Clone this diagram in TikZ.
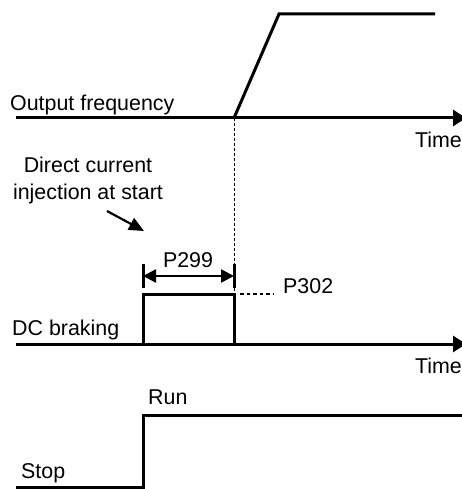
\documentclass[tikz,border=0pt]{standalone}
\usepackage{fontspec}
\setmainfont{Liberation Sans}
\usetikzlibrary{arrows.meta,positioning}

\begin{document}
\begin{tikzpicture}[x=1pt, y=-1pt, font=\fontsize{21.4}{27}\selectfont,
  signal/.style={line width=3pt, line join=miter},
  axe/.style={line width=3pt, -{Triangle[length=13pt,width=16pt]}},
  cote/.style={line width=2.4pt, {Triangle[length=13pt,width=13pt]}-{Triangle[length=13pt,width=13pt]}},
  lbl/.style={inner sep=0pt}]
\useasboundingbox (0,0) rectangle (462,489);
% output frequency
\coordinate (f0) at (16,118); \coordinate (f1) at (466,118);
\coordinate (rampa) at (234,118); \coordinate (rampb) at (279,14); \coordinate (fmax) at (435,14);
\draw[axe] (f0) -- (f1);
\draw[signal] (rampa) -- (rampb) -- (fmax);
\node[lbl, anchor=base west] (outfreq) at (10,111) {Output frequency};
\node[lbl, anchor=base east] (time1) at (462,147) {Time};
% DC braking
\coordinate (d0) at (16,344); \coordinate (d1) at (466,344);
\coordinate (pa) at (143,344); \coordinate (pb) at (143,294);
\coordinate (pc) at (234,294); \coordinate (pd) at (234,344);
\draw[axe] (d0) -- (d1);
\draw[signal] (pa) -- (pb) -- (pc) -- (pd);
\node[lbl, anchor=base west] (dcbrake) at (12,335) {DC braking};
\node[lbl, anchor=base east] (time2) at (462,373) {Time};
\draw[line width=0.8pt, dash pattern=on 3pt off 2pt] (rampa) -- (pc);
% P299 / P302
\coordinate (ba1) at (143,264); \coordinate (ba2) at (143,288);
\coordinate (bb1) at (234,264); \coordinate (bb2) at (234,288);
\coordinate (ca) at (143,276); \coordinate (cb) at (234,276);
\draw[line width=3pt] (ba1) -- (ba2) (bb1) -- (bb2);
\draw[cote] (ca) -- (cb);
\node[lbl, anchor=base] (p299) at (188,267) {P299};
\node[lbl, anchor=base west] (p302) at (283,293) {P302};
\coordinate (dota) at (240,294); \coordinate (dotb) at (274,294);
\draw[line width=2pt, dash pattern=on 3.5pt off 3pt] (dota) -- (dotb);
\node[lbl, align=center] (dcinj) at (88,180) {Direct current\\injection at start};
\coordinate (inja) at (107,211); \coordinate (injb) at (144,231);
\draw[line width=2.2pt, -{Triangle[length=15pt,width=13pt]}] (inja) -- (injb);
% run / stop
\coordinate (r0) at (16,487); \coordinate (r1) at (143,487);
\coordinate (r2) at (143,415); \coordinate (r3) at (466,415);
\draw[signal] (r0) -- (r1) -- (r2) -- (r3);
\node[lbl, anchor=base west] (run) at (148,404) {Run};
\node[lbl, anchor=base west] (stop) at (21,478) {Stop};
\end{tikzpicture}
\end{document}
